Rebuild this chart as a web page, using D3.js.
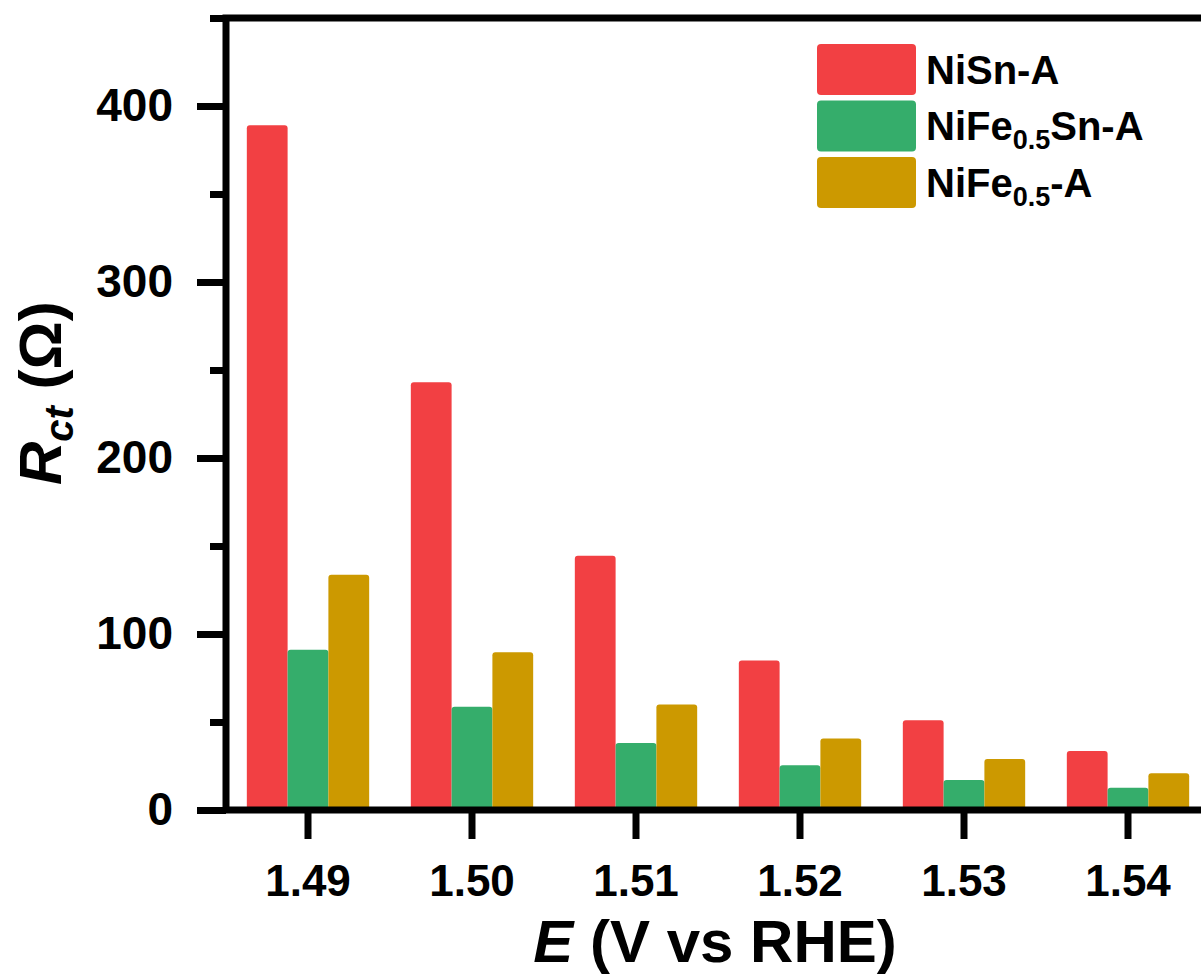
<!DOCTYPE html>
<html>
<head>
<meta charset="utf-8">
<script src="https://cdn.jsdelivr.net/npm/d3@7"></script>
<style>
  html, body { margin: 0; padding: 0; background: #fff; overflow: hidden; }
  svg { display: block; }
  text { font-family: "Liberation Sans", Arial, sans-serif; font-weight: bold; fill: #000; }
</style>
</head>
<body>
<svg id="chart" width="1201" height="976"></svg>
<script>
// Charge-transfer resistance at each applied potential
const potentials = ["1.49", "1.50", "1.51", "1.52", "1.53", "1.54"];
const nisnA      = [389, 243, 144.5, 85, 51, 33.5];
const nife05SnA  = [91, 58.7, 38, 25.4, 17, 12.7];
const nife05A    = [133.7, 89.6, 60, 40.6, 29, 20.9];

const seriesKeys   = ["NiSn-A", "NiFe0.5Sn-A", "NiFe0.5-A"];
const seriesValues = [nisnA, nife05SnA, nife05A];
const seriesColors = ["#F24043", "#35AD6B", "#CC9900"];

const yMajorTicks = [0, 100, 200, 300, 400];
const yMinorTicks = [50, 150, 250, 350, 450];

const svg = d3.select("#chart");

const plotLeft = 226, plotRight = 1210, plotTop = 18, plotBottom = 810;
const lw = 7;

const x0 = d3.scaleBand()
  .domain(potentials)
  .range([plotLeft, plotRight])
  .paddingInner(0.254)
  .paddingOuter(0.127);

const x1 = d3.scaleBand()
  .domain(seriesKeys)
  .range([0, x0.bandwidth()]);

const y = d3.scaleLinear().domain([0, 450]).range([plotBottom, plotTop]);

// bars
const rows = potentials.map((p, i) => ({
  p, vals: seriesKeys.map((k, j) => ({ k, v: seriesValues[j][i], c: seriesColors[j] }))
}));

const groups = svg.append("g").selectAll("g").data(rows).join("g")
  .attr("transform", d => `translate(${x0(d.p)},0)`);

groups.selectAll("rect").data(d => d.vals).join("rect")
  .attr("x", d => x1(d.k))
  .attr("width", x1.bandwidth())
  .attr("y", d => y(d.v))
  .attr("height", d => y(0) - y(d.v) + 3)
  .attr("rx", 3)
  .attr("fill", d => d.c);

// frame
svg.append("rect")
  .attr("x", plotLeft).attr("y", plotTop)
  .attr("width", plotRight - plotLeft).attr("height", plotBottom - plotTop)
  .attr("fill", "none").attr("stroke", "#000").attr("stroke-width", lw);

// y axis: major ticks with labels
const yAxis = svg.append("g").attr("transform", `translate(${plotLeft},0)`)
  .call(d3.axisLeft(y).tickValues(yMajorTicks).tickSize(29).tickPadding(24).tickSizeOuter(0));
yAxis.select(".domain").remove();
yAxis.selectAll(".tick line").attr("stroke", "#000").attr("stroke-width", lw);
yAxis.selectAll(".tick text")
  .style("font-size", "46px").attr("font-family", null).attr("fill", "#000");

// y axis: minor ticks
const yMinor = svg.append("g").attr("transform", `translate(${plotLeft},0)`)
  .call(d3.axisLeft(y).tickValues(yMinorTicks).tickSize(16).tickFormat("").tickSizeOuter(0));
yMinor.select(".domain").remove();
yMinor.selectAll(".tick line").attr("stroke", "#000").attr("stroke-width", lw);

// x axis
const xAxis = svg.append("g").attr("transform", `translate(0,${plotBottom})`)
  .call(d3.axisBottom(x0).tickSize(29).tickPadding(26).tickSizeOuter(0));
xAxis.select(".domain").remove();
xAxis.selectAll(".tick line").attr("stroke", "#000").attr("stroke-width", lw);
xAxis.selectAll(".tick text")
  .style("font-size", "44px").attr("font-family", null).attr("fill", "#000");

// x axis title
const xt = svg.append("text")
  .attr("x", 715).attr("y", 962)
  .attr("text-anchor", "middle")
  .style("font-size", "60px");
xt.append("tspan").style("font-style", "italic").text("E");
xt.append("tspan").text(" (V vs RHE)");

// y axis title
const yt = svg.append("text")
  .attr("transform", "translate(61,485) rotate(-90)")
  .attr("text-anchor", "start")
  .style("font-size", "60px");
yt.append("tspan").style("font-style", "italic").text("R");
yt.append("tspan").style("font-style", "italic").style("font-size", "40px").attr("dy", 12).text("ct");
yt.append("tspan").attr("dy", -12).text(" (Ω)");

// legend
const legendLabels = [
  [["NiSn-A", false]],
  [["NiFe", false], ["0.5", true], ["Sn-A", false]],
  [["NiFe", false], ["0.5", true], ["-A", false]]
];
const legend = svg.append("g");
seriesKeys.forEach((k, i) => {
  const yy = 44 + i * 56.5;
  legend.append("rect")
    .attr("x", 817).attr("y", yy)
    .attr("width", 99).attr("height", 51)
    .attr("rx", 4)
    .attr("fill", seriesColors[i]);
  const t = legend.append("text")
    .attr("x", 926).attr("y", yy + 39.5)
    .style("font-size", "40px");
  let sub = false;
  legendLabels[i].forEach(([s, isSub]) => {
    const ts = t.append("tspan").text(s);
    if (isSub && !sub) { ts.attr("dy", 9).style("font-size", "27px"); sub = true; }
    else if (!isSub && sub) { ts.attr("dy", -9); sub = false; }
  });
});
</script>
</body>
</html>
